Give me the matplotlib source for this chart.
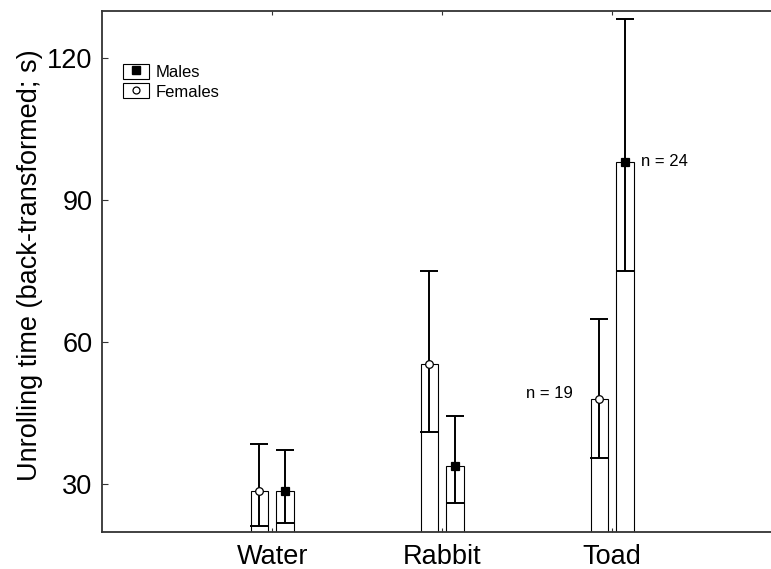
import matplotlib
matplotlib.use("Agg")
import matplotlib.pyplot as plt
from matplotlib.patches import Patch
from matplotlib.lines import Line2D
import numpy as np

plt.rcParams['font.family'] = ['Liberation Sans', 'DejaVu Sans']

categories = ["Water", "Rabbit", "Toad"]
female_mean = [28.6, 55.4, 48.0]
female_low = [21.1, 41.0, 35.5]
female_high = [38.6, 75.0, 64.9]
male_mean = [28.6, 33.9, 98.1]
male_low = [21.8, 26.0, 75.0]
male_high = [37.2, 44.5, 128.3]
n_labels = ["n = 19", "n = 24"]

W, H = 771, 569
fig = plt.figure(figsize=(W / 100, H / 100), dpi=100)
left, right = 102.3 / W, 782 / W
top, bottom = 1 - 10.7 / H, 1 - 531.7 / H
ax = fig.add_axes([left, bottom, right - left, top - bottom])

x = np.arange(1, len(categories) + 1)
off = 0.075
bw = 0.103

spine_col = '#333333'
for s in ax.spines.values():
    s.set_color(spine_col)
    s.set_linewidth(1.3)
ax.spines['right'].set_visible(False)

def draw(xpos, mean, low, high, marker, mfc):
    mean = np.array(mean); low = np.array(low); high = np.array(high)
    ax.bar(xpos, mean - 20, bottom=20, width=bw, facecolor='white',
           edgecolor='black', linewidth=0.8, zorder=2)
    ax.errorbar(xpos, mean, yerr=[mean - low, high - mean], fmt='none',
                ecolor='black', elinewidth=1.4, capsize=6.4, capthick=1.4,
                zorder=3)
    ax.plot(xpos, mean, linestyle='none', marker=marker, markersize=6 if marker == 's' else 5.5,
            markerfacecolor=mfc, markeredgecolor='black', markeredgewidth=0.9, zorder=4)

draw(x - off, female_mean, female_low, female_high, 'o', 'white')
draw(x + off, male_mean, male_low, male_high, 's', 'black')

ax.set_xlim(0, 4)
ax.set_ylim(20, 130)
ax.set_xticks(x)
ax.set_xticklabels(categories, fontsize=19.5)
ax.set_yticks([30, 60, 90, 120])
ax.tick_params(axis='y', direction='in', length=4, width=0.8, labelsize=19.5, pad=7,
               color=spine_col)
ax.tick_params(axis='x', direction='in', length=3, width=0.8, pad=9, color=spine_col,
               top=True)
ax.set_ylabel("Unrolling time (back-transformed; s)", fontsize=19.5)
ax.yaxis.set_label_coords(-0.0875, 0.512)

ax.text(3 + 0.17, male_mean[2], n_labels[1], fontsize=12, ha='left', va='center')
ax.text(3 - 0.23, female_mean[2] + 1.2, n_labels[0], fontsize=12, ha='right', va='center')

h_m = (Patch(facecolor='white', edgecolor='black', linewidth=0.8),
       Line2D([], [], linestyle='none', marker='s', markersize=6,
              markerfacecolor='black', markeredgecolor='black'))
h_f = (Patch(facecolor='white', edgecolor='black', linewidth=0.8),
       Line2D([], [], linestyle='none', marker='o', markersize=5,
              markerfacecolor='white', markeredgecolor='black', markeredgewidth=0.9))
ax.legend([h_m, h_f], ["Males", "Females"], loc='upper left',
          bbox_to_anchor=(0.03, 0.898), frameon=False, fontsize=12,
          handlelength=1.55, handleheight=1.0, handletextpad=0.45,
          labelspacing=0.2, borderpad=0, borderaxespad=0)

fig.savefig("out.png", dpi=100)
